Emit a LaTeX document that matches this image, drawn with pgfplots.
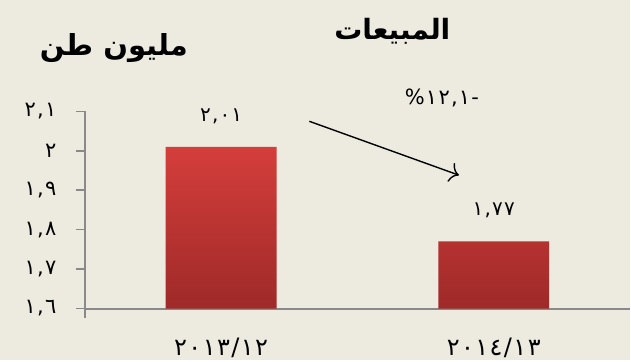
\documentclass[border=0pt]{standalone}
\usepackage{fontspec}
\usepackage{pgfplots}
\pgfplotsset{compat=1.18}
\usetikzlibrary{arrows.meta}
\TeXXeTstate=1
\newfontfamily\arabicfont[Script=Arabic]{DejaVu Sans}
\newfontfamily\arabicdig[Script=Arabic, LetterSpace=6]{DejaVu Sans}
\definecolor{bgc}{RGB}{237,234,224}
\definecolor{axc}{RGB}{137,137,137}
\definecolor{bartop}{RGB}{212,62,59}
\definecolor{barbot}{RGB}{158,42,41}
\begin{document}
\begin{tikzpicture}[x=1pt,y=1pt]
\fill[bgc] (0,0) rectangle (631,361);
\begin{axis}[
  at={(85pt,52pt)}, anchor=south west,
  scale only axis, width=546pt, height=197.5pt,
  xmin=-0.5, xmax=1.5, ymin=1.6, ymax=2.1,
  clip=false,
  axis x line=bottom, axis y line=left,
  axis line style={-, draw=axc, line width=2pt},
  tick align=outside, major tick length=9pt,
  tick style={draw=axc, line width=1.6pt},
  ytick={1.6,1.7,1.8,1.9,2,2.1},
  yticklabels={{١,٦},{١,٧},{١,٨},{١,٩},{٢},{٢,١}},
  yticklabel style={font=\arabicdig\fontsize{21}{24}\selectfont, xshift=-16pt},
  xtick={0,1},
  xticklabels={{٢٠١٣/١٢},{٢٠١٤/١٣}},
  xtick style={draw=none},
  xticklabel style={font=\arabicdig\fontsize{24}{26}\selectfont, yshift=-17pt},
  extra x ticks={0.5}, extra x tick labels={},
  extra x tick style={tick style={draw=axc, line width=1.6pt}},
  ybar, bar width=111pt,
  nodes near coords, point meta=explicit symbolic,
  every node near coord/.append style={font=\arabicdig\fontsize{20}{24}\selectfont, text=black, anchor=center, yshift=31pt},
]
\addplot[ybar, draw=none, top color=bartop, bottom color=barbot] coordinates {(0,2.01) [{٢,٠١}] (1,1.77) [{١,٧٧}]};
\draw[axc, line width=2pt] (axis cs:-0.5,1.6) -- ([yshift=-10pt]axis cs:-0.5,1.6);
\draw[-{To[length=9pt,width=20pt]}, line width=1.4pt] (axis cs:0.3236,2.0747) -- (axis cs:0.8727,1.938);
\node[font=\arabicdig\fontsize{21}{24}\selectfont] at (axis cs:0.81,2.135) {-١٢,١\%};
\end{axis}
\node[font=\arabicfont\bfseries\fontsize{28}{32}\selectfont] at (393,330) {\beginR المبيعات\endR};
\node[font=\arabicfont\bfseries\fontsize{29}{32}\selectfont] at (114,313) {\beginR مليون طن\endR};
\end{tikzpicture}
\end{document}
